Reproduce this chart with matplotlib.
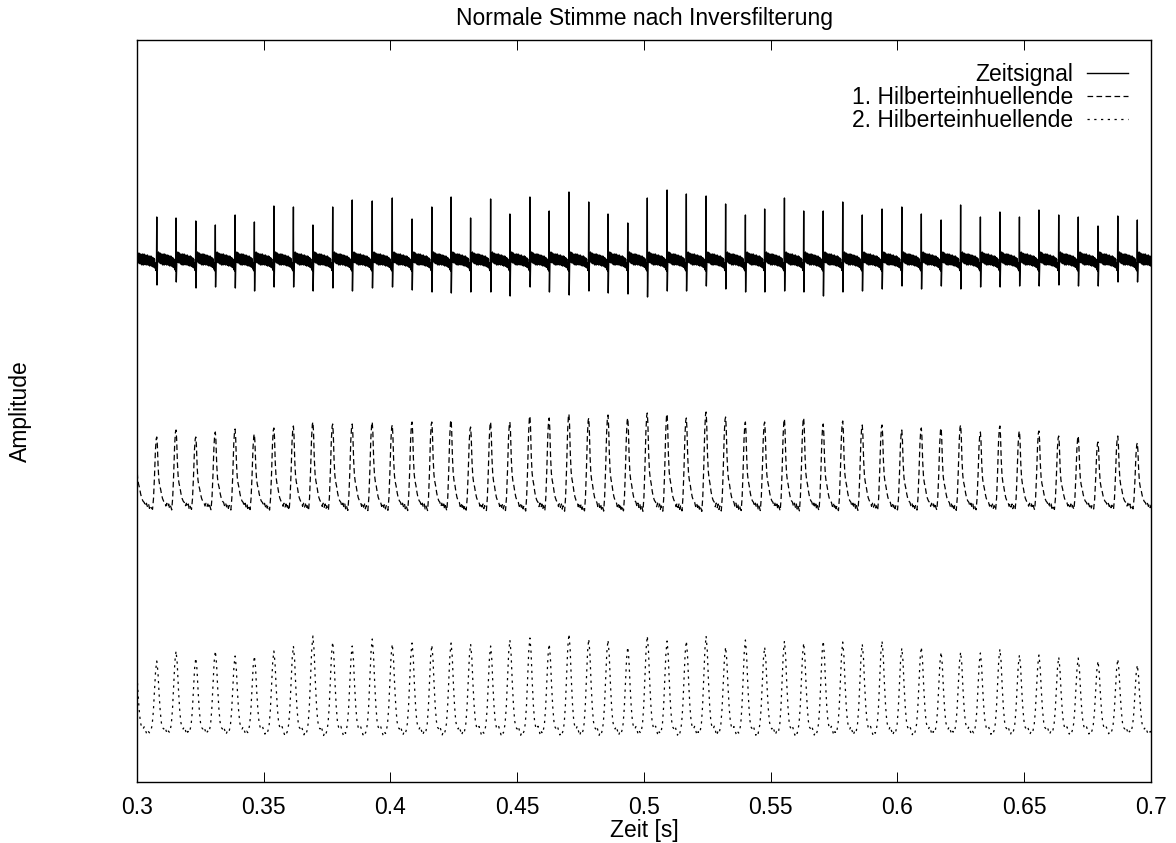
import numpy as np
import matplotlib
matplotlib.use('Agg')
import matplotlib.pyplot as plt

plt.rcParams['font.family'] = ['Liberation Sans', 'DejaVu Sans']

# Pulszeitpunkte [s] (inkl. je einem Puls knapp ausserhalb)
pulse_t = [0.2993, 0.3078, 0.3154, 0.3232, 0.3309, 0.3387, 0.3463, 0.3540, 0.3617, 0.3694,
           0.3772, 0.3849, 0.3928, 0.4007, 0.4085, 0.4163, 0.4239, 0.4316, 0.4395, 0.4471,
           0.4550, 0.4626, 0.4704, 0.4782, 0.4858, 0.4936, 0.5013, 0.5091, 0.5167, 0.5245,
           0.5322, 0.5400, 0.5476, 0.5554, 0.5630, 0.5707, 0.5784, 0.5861, 0.5939, 0.6017,
           0.6094, 0.6172, 0.6249, 0.6327, 0.6404, 0.6481, 0.6558, 0.6636, 0.6713, 0.6791,
           0.6869, 0.6946, 0.7023]

# Zeitsignal: Spitze nach oben / unten je Puls
spike_up = [0.40, 0.44, 0.43, 0.40, 0.36, 0.46, 0.39, 0.55, 0.54, 0.36, 0.54, 0.61, 0.60, 0.63,
            0.42, 0.54, 0.64, 0.43, 0.62, 0.47, 0.64, 0.50, 0.69, 0.59, 0.47, 0.38, 0.63, 0.71,
            0.67, 0.65, 0.57, 0.46, 0.52, 0.63, 0.50, 0.50, 0.59, 0.46, 0.52, 0.54, 0.47, 0.41,
            0.56, 0.44, 0.49, 0.44, 0.51, 0.46, 0.44, 0.35, 0.45, 0.41, 0.40]
spike_down = [0.25, 0.24, 0.21, 0.27, 0.26, 0.27, 0.30, 0.26, 0.26, 0.30, 0.27, 0.30, 0.27, 0.26,
              0.29, 0.31, 0.32, 0.31, 0.31, 0.35, 0.26, 0.31, 0.34, 0.30, 0.32, 0.33, 0.36, 0.30,
              0.30, 0.25, 0.28, 0.31, 0.31, 0.30, 0.31, 0.35, 0.31, 0.30, 0.28, 0.25, 0.28, 0.25,
              0.28, 0.26, 0.26, 0.25, 0.25, 0.24, 0.25, 0.25, 0.21, 0.21, 0.25]

# Spitzenwerte der Einhuellenden
env1_peak = [0.73, 0.67, 0.74, 0.67, 0.72, 0.75, 0.70, 0.76, 0.78, 0.82, 0.80, 0.80, 0.82, 0.79,
             0.82, 0.82, 0.84, 0.77, 0.82, 0.82, 0.88, 0.86, 0.90, 0.86, 0.89, 0.86, 0.91, 0.90,
             0.86, 0.92, 0.87, 0.82, 0.82, 0.85, 0.86, 0.80, 0.83, 0.79, 0.79, 0.74, 0.76, 0.76,
             0.79, 0.72, 0.78, 0.73, 0.73, 0.68, 0.68, 0.62, 0.68, 0.61, 0.60]
env2_peak = [0.76, 0.68, 0.78, 0.71, 0.78, 0.73, 0.73, 0.78, 0.83, 0.93, 0.87, 0.83, 0.90, 0.85,
             0.86, 0.84, 0.86, 0.85, 0.83, 0.89, 0.91, 0.85, 0.95, 0.90, 0.89, 0.82, 0.93, 0.88,
             0.88, 0.93, 0.82, 0.89, 0.82, 0.88, 0.86, 0.88, 0.87, 0.85, 0.88, 0.81, 0.82, 0.77,
             0.77, 0.76, 0.80, 0.74, 0.74, 0.72, 0.71, 0.68, 0.70, 0.64, 0.65]

# Grundlinien der drei Kurven
base_sig, base_env1, base_env2 = 5.21, 2.78, 0.53

# Form einer Periode (Phase relativ zur Periodendauer)
sig_phase = [0.0, 0.012, 0.03, 0.05, 0.07, 0.09, 0.11, 0.13, 0.15, 0.17, 0.19, 0.21, 0.23, 0.25,
             0.27, 0.29, 0.31, 0.33, 0.35, 0.37, 0.39, 0.41, 0.43, 0.45, 0.47, 0.49, 0.51, 0.53,
             0.55, 0.57, 0.59, 0.61, 0.63, 0.65, 0.67, 0.69, 0.71, 0.73, 0.75, 0.77, 0.79, 0.81,
             0.83, 0.85, 0.87, 0.89, 0.91, 0.93, 0.95, 0.97, 0.985]
sig_wiggle = [0.0, 0.0, -0.07, 0.08, -0.01, 0.09, 0.00, 0.07, -0.02, 0.08, -0.01, 0.06, -0.03,
              0.07, -0.01, 0.06, -0.04, 0.07, -0.02, 0.05, -0.04, 0.07, -0.03, 0.05, -0.03, 0.06,
              -0.04, 0.05, -0.03, 0.06, -0.04, 0.04, -0.04, 0.05, -0.05, 0.04, -0.04, 0.05, -0.05,
              0.04, -0.05, 0.03, -0.06, 0.03, -0.06, 0.02, -0.07, -0.02, -0.09, -0.05, -0.10]

env1_phase = [-0.22, -0.17, -0.12, -0.07, -0.03, 0.0, 0.03, 0.07, 0.11, 0.15, 0.20, 0.25, 0.30,
              0.36, 0.42, 0.47, 0.52, 0.57, 0.62, 0.66, 0.70, 0.74]
env1_shape = [-0.08, 0.08, 0.40, 0.80, 0.97, 1.0, 0.88, 0.55, 0.36, 0.28, 0.22, 0.14, 0.08,
              0.04, 0.02, -0.03, 0.01, -0.04, 0.0, -0.06, -0.02, -0.05]

env2_phase = [-0.30, -0.24, -0.18, -0.12, -0.06, 0.0, 0.06, 0.12, 0.18, 0.24, 0.30, 0.36, 0.42,
              0.48, 0.54, 0.60, 0.66]
env2_shape = [-0.02, 0.06, 0.25, 0.55, 0.86, 1.0, 0.84, 0.52, 0.26, 0.09, 0.02, 0.0, 0.03,
              -0.02, -0.07, -0.03, -0.05]


def period(k):
    if k < len(pulse_t) - 1:
        return pulse_t[k + 1] - pulse_t[k]
    return pulse_t[k] - pulse_t[k - 1]


def build_env(peaks, phase, shape, base):
    tt, yy = [], []
    for k in range(len(pulse_t)):
        tt.append(pulse_t[k] + np.array(phase) * period(k))
        yy.append(base + peaks[k] * np.array(shape))
    return np.concatenate(tt), np.concatenate(yy)


def build_sig():
    tt, yy = [], []
    for k in range(len(pulse_t) - 1):
        y = base_sig + np.array(sig_wiggle)
        y[0] = base_sig + spike_up[k]
        y[1] = base_sig - spike_down[k]
        tt.append(pulse_t[k] + np.array(sig_phase) * period(k))
        yy.append(y)
    return np.concatenate(tt), np.concatenate(yy)


fig = plt.figure(figsize=(11.76, 8.43), dpi=100)
ax = fig.add_axes([137 / 1176, 61 / 843, 1014 / 1176, 742 / 843])

t0, y0 = build_sig()
t1, y1 = build_env(env1_peak, env1_phase, env1_shape, base_env1)
t2, y2 = build_env(env2_peak, env2_phase, env2_shape, base_env2)

ax.plot(t0, y0, color='black', linewidth=1.0, label='Zeitsignal')
ax.plot(t1, y1, color='black', linewidth=0.9, dashes=(4.5, 2.7), label='1. Hilberteinhuellende')
ax.plot(t2, y2, color='black', linewidth=0.9, dashes=(1.8, 3.6), label='2. Hilberteinhuellende')

ax.set_xlim(0.3, 0.7)
ax.set_ylim(0, 7.42)
ax.set_xticks(np.arange(0.3, 0.7001, 0.05))
ax.set_xticklabels(['0.3', '0.35', '0.4', '0.45', '0.5', '0.55', '0.6', '0.65', '0.7'])
ax.set_yticks([])
ax.tick_params(axis='x', direction='in', top=True, length=7, width=0.7, labelsize=16.5, pad=10)
for s in ax.spines.values():
    s.set_linewidth(1.0)

ax.set_title('Normale Stimme nach Inversfilterung', fontsize=16.5, pad=11)
ax.set_xlabel('Zeit [s]', fontsize=16.5, labelpad=0)
ax.set_ylabel('Amplitude', fontsize=16.5)
ax.yaxis.set_label_coords(-0.104, 0.5)

ax.legend(loc='upper right', frameon=False, markerfirst=False, fontsize=16.5,
          handlelength=1.8, handletextpad=0.6, labelspacing=0.0, borderaxespad=0.6)

fig.savefig('out.png', dpi=100)
